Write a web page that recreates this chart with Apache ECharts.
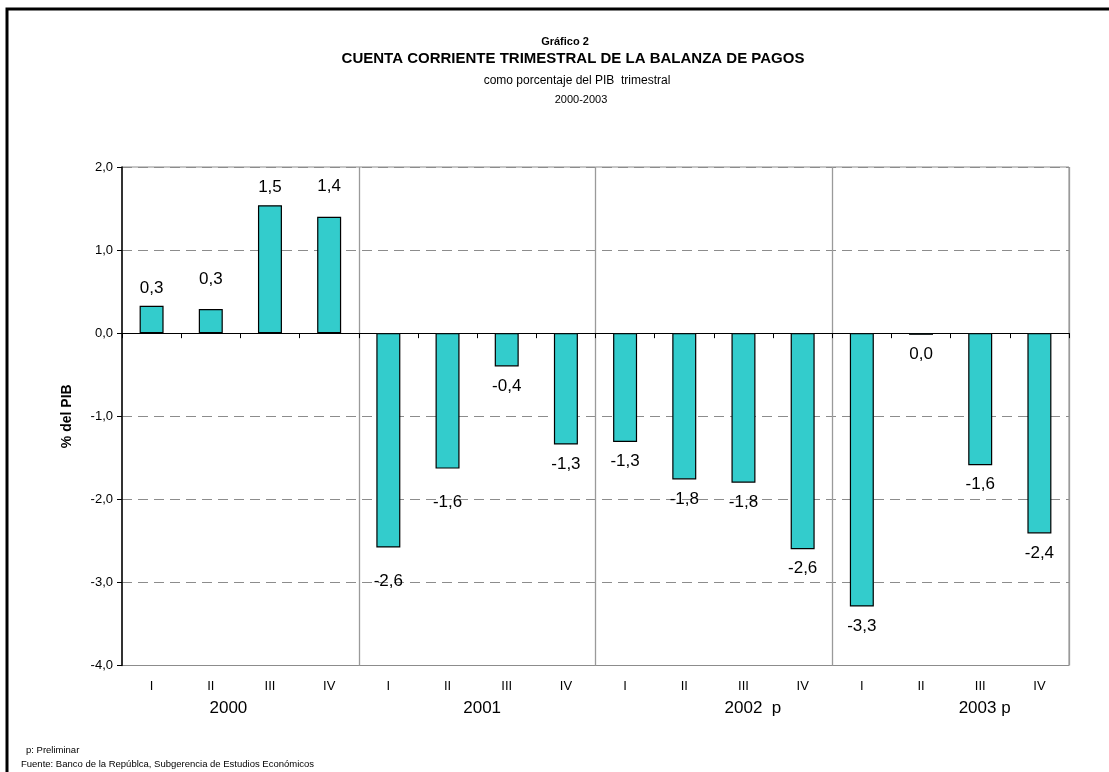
<!DOCTYPE html>
<html>
<head>
<meta charset="utf-8">
<script src="https://cdn.jsdelivr.net/npm/echarts@6/dist/echarts.min.js"></script>
<style>
html,body{margin:0;padding:0;background:#fff;}
#chart{width:1109px;height:772px;}
</style>
</head>
<body>
<div id="chart"></div>
<script>
const quarters = ['I','II','III','IV','I','II','III','IV','I','II','III','IV','I','II','III','IV'];
const years = ['2000','2001','2002  p','2003 p'];
const values = [0.33,0.29,1.54,1.40,-2.58,-1.63,-0.40,-1.34,-1.31,-1.76,-1.80,-2.60,-3.29,-0.02,-1.59,-2.41];
const yMin = -4, yMax = 2, yStep = 1;

const NARROW = "'Liberation Sans Narrow','Arial Narrow','Liberation Sans',Arial,sans-serif";
const SANS = "'Liberation Sans',Arial,sans-serif";

function fmtComma(v){
  const r = Math.round(Math.abs(v)*10)/10;
  return (v < 0 && r !== 0 ? '-' : '') + r.toFixed(1).replace('.', ',');
}

const chart = echarts.init(document.getElementById('chart'), null, {renderer:'canvas'});

const labelDistance = [9,21,9,22,25,25,11,11,11,11,11,11,11,11,11,11];
const yearShift = [-12,5,39,34];

const barData = values.map((v,i)=>({
  value:v,
  label:{position: v>=0 ? 'top' : 'bottom', distance: labelDistance[i]}
}));

const yearData = years.map((y,i)=>{
  const s = yearShift[i];
  return {value:y, textStyle:{padding: s>=0 ? [0,0,0,2*s] : [0,-2*s,0,0]}};
});

function txt(size, bold){
  return {fontFamily:NARROW, fontWeight: bold ? 'bold' : 'normal', fontSize:size, color:'#000'};
}

const option = {
  backgroundColor:'#fff',
  animation:false,
  title:[
    {text:'Gráfico 2', left:565, top:36, textAlign:'center', padding:0, textStyle:txt(11,true)},
    {text:'CUENTA CORRIENTE TRIMESTRAL DE LA BALANZA DE PAGOS', left:573, top:51.5, textAlign:'center', padding:0, textStyle:txt(15,true)},
    {text:'como porcentaje del PIB  trimestral', left:577, top:75, textAlign:'center', padding:0, textStyle:txt(12,false)},
    {text:'2000-2003', left:581, top:94, textAlign:'center', padding:0, textStyle:txt(11,false)},
    {text:'p: Preliminar', left:26, top:745, padding:0, textStyle:txt(9.5,false)},
    {text:'Fuente: Banco de la Repúblca, Subgerencia de Estudios Económicos', left:21, top:759, padding:0, textStyle:txt(9.5,false)}
  ],
  graphic:[
    {type:'rect', shape:{x:7,y:9,width:1300,height:900}, style:{fill:'none', stroke:'#000', lineWidth:3}, silent:true, z:100}
  ],
  grid:{left:122, right:40, top:167, bottom:106.5, show:true, borderColor:'#8c8c8c', borderWidth:1, backgroundColor:'transparent', containLabel:false},
  xAxis:[
    {type:'category', data:quarters, position:'bottom',
     axisLine:{onZero:true, lineStyle:{color:'#000', width:1}},
     axisTick:{show:true, length:5, lineStyle:{color:'#000'}, interval:0},
     axisLabel:{show:false},
     splitLine:{show:true, interval:function(i){return i>0 && i%4===0;}, lineStyle:{color:'#9a9a9a', width:1.3, type:'solid'}}
    },
    {type:'category', data:quarters, position:'bottom', gridIndex:0,
     axisLine:{show:false, onZero:false}, axisTick:{show:false},
     axisLabel:{show:true, interval:0, fontFamily:SANS, fontSize:13, color:'#000', margin:14},
     splitLine:{show:false}
    },
    {type:'category', data:yearData, position:'bottom', gridIndex:0, offset:24,
     axisLine:{show:false, onZero:false}, axisTick:{show:false},
     axisLabel:{show:true, interval:0, fontFamily:SANS, fontSize:17, color:'#000', margin:10},
     splitLine:{show:false}
    }
  ],
  yAxis:{
    type:'value', min:yMin, max:yMax, interval:yStep,
    name:'% del PIB', nameLocation:'middle', nameGap:48, nameRotate:90,
    nameTextStyle:{fontFamily:SANS, fontWeight:'bold', fontSize:14, color:'#000'},
    axisLine:{show:true, lineStyle:{color:'#000', width:1.5}},
    axisTick:{show:true, length:5, inside:false, lineStyle:{color:'#000'}},
    axisLabel:{fontFamily:SANS, fontSize:13, color:'#000', margin:9, formatter:function(v){return v.toFixed(1).replace('.',',');}},
    splitLine:{show:true, lineStyle:{color:'#8c8c8c', type:[10,6], width:1}}
  },
  series:[{
    type:'bar', xAxisIndex:0, data:barData, barWidth:24,
    itemStyle:{color:'#33CCCC', borderColor:'#000', borderWidth:1.2},
    label:{show:true, fontFamily:SANS, fontSize:17, color:'#000', formatter:function(p){return fmtComma(p.value);}}
  }]
};
chart.setOption(option);
</script>
</body>
</html>
